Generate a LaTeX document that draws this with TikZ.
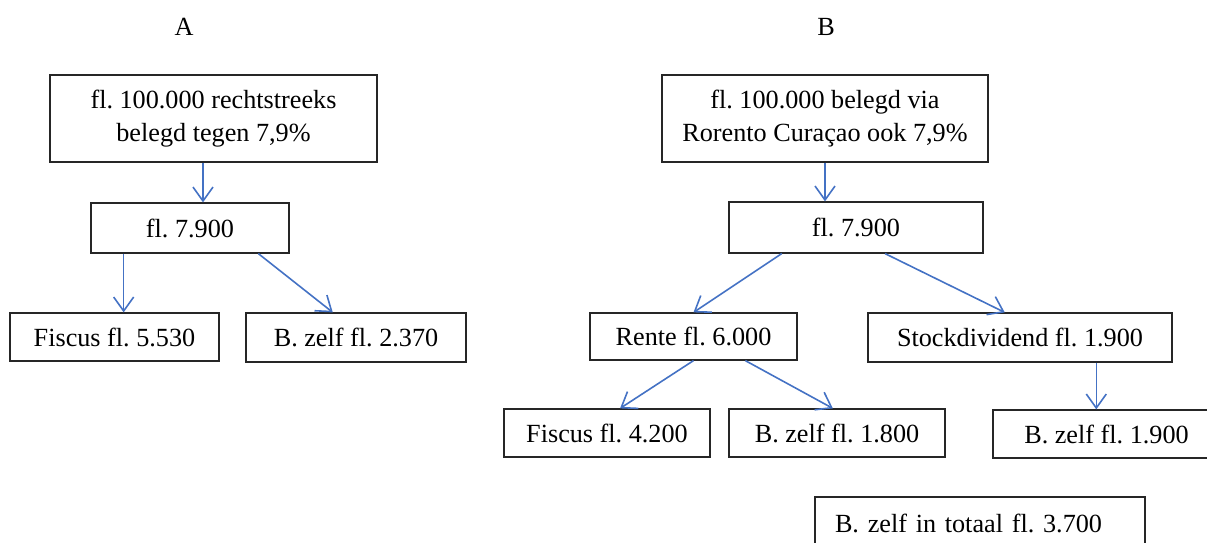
\documentclass[tikz,border=0pt]{standalone}
\usepackage{fontspec}
\setmainfont{Liberation Serif}
\usepackage{xcolor}
\usetikzlibrary{positioning,arrows.meta,calc}
\definecolor{oblue}{RGB}{68,114,196}
\frenchspacing

\begin{document}
\begin{tikzpicture}[x=0.5pt, y=-0.5pt,
  box/.style={draw=black!85, line width=0.6pt, align=center, inner sep=0pt,
              font=\fontsize{13.1}{16.2}\selectfont},
  arr/.style={-{Straight Barb[length=7pt,width=10pt]}, line width=0.8pt, oblue},
  title/.style={font=\fontsize{13.1}{16.2}\selectfont}]
  \useasboundingbox (0,0) rectangle (1207,542);
  % kolom A
  \node[title] (tA) at (184,27) {A};
  \node[box, minimum width=163.5pt, minimum height=43.5pt] (topA) at (213.5,118.5)
       {fl. 100.000 rechtstreeks\\belegd tegen 7,9\%};
  \node[box, minimum width=99pt, minimum height=25pt] (midA) at (190,228) {fl. 7.900};
  \node[box, minimum width=104.5pt, minimum height=24pt] (fiscA) at (114.5,337) {Fiscus fl. 5.530};
  \node[box, minimum width=110pt, minimum height=24.5pt] (zelfA) at (356,337.5) {B. zelf fl. 2.370};
  \coordinate (a1) at ($(topA.south west)!.468!(topA.south east)$);
  \coordinate (a2) at ($(midA.south west)!.167!(midA.south east)$);
  \draw[arr] (a1) -- (a1 |- midA.north);
  \draw[arr] (a2) -- (a2 |- fiscA.north);
  \draw[arr] ($(midA.south west)!.843!(midA.south east)$) -- ($(zelfA.north west)!.395!(zelfA.north east)$);
  % kolom B
  \node[title] (tB) at (826,27) {B};
  \node[box, minimum width=163pt, minimum height=43.5pt] (topB) at (825,118.5)
       {fl. 100.000 belegd via\\Rorento Curaçao ook 7,9\%};
  \node[box, minimum width=127pt, minimum height=25.5pt] (midB) at (856,227.5) {fl. 7.900};
  \node[box, minimum width=103.5pt, minimum height=23.5pt] (rente) at (693.5,336.5) {Rente fl. 6.000};
  \node[box, minimum width=152pt, minimum height=24.5pt] (stock) at (1020,337.5) {Stockdividend fl. 1.900};
  \node[box, minimum width=103pt, minimum height=24pt] (fiscB) at (607,433) {Fiscus fl. 4.200};
  \node[box, minimum width=108pt, minimum height=24pt] (zelfB) at (837,433) {B. zelf fl. 1.800};
  \node[box, minimum width=113.5pt, minimum height=24pt] (zelfC) at (1106.5,434) {B. zelf fl. 1.900};
  \node[box, minimum width=165pt, minimum height=26.5pt, text width=145pt, align=left] (totaal) at (980,523.5)
       {B. zelf in totaal fl. 3.700};
  \coordinate (b1) at ($(stock.south west)!.75!(stock.south east)$);
  \draw[arr] (topB.south) -- (topB.south |- midB.north);
  \draw[arr] ($(midB.south west)!.209!(midB.south east)$) -- (rente.north);
  \draw[arr] ($(midB.south west)!.614!(midB.south east)$) -- ($(stock.north west)!.45!(stock.north east)$);
  \draw[arr] (rente.south) -- ($(fiscB.north west)!.563!(fiscB.north east)$);
  \draw[arr] ($(rente.south west)!.749!(rente.south east)$) -- ($(zelfB.north west)!.481!(zelfB.north east)$);
  \draw[arr] (b1) -- (b1 |- zelfC.north);
\end{tikzpicture}
\end{document}
